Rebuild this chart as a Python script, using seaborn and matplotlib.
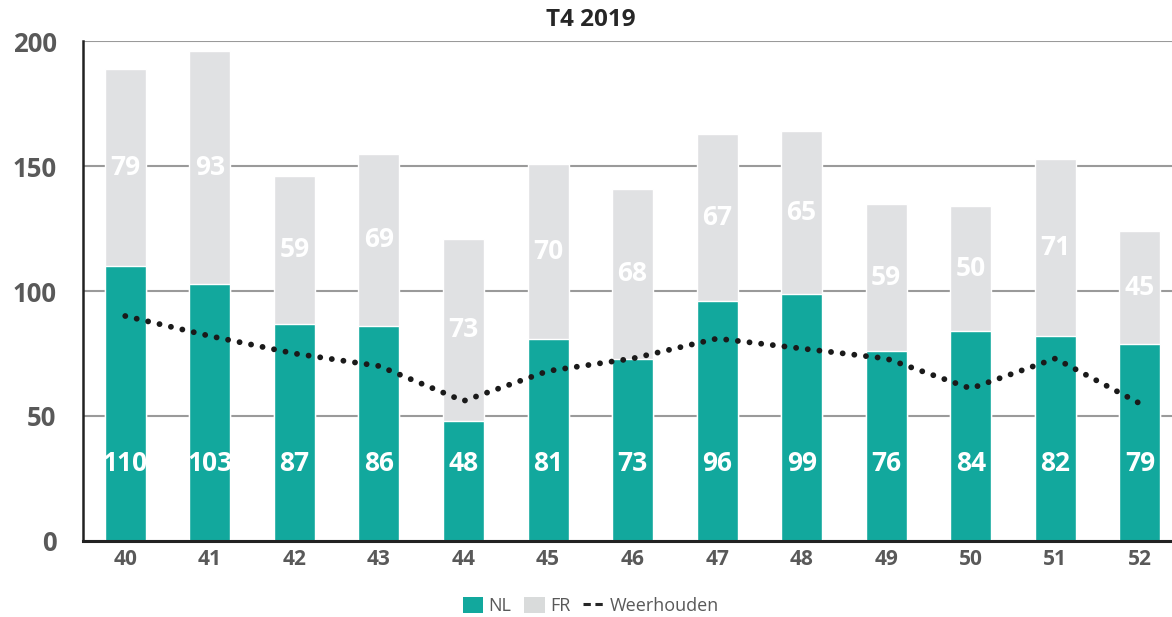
import numpy as np
import pandas as pd
import matplotlib
matplotlib.use('Agg')
import matplotlib.pyplot as plt
import seaborn as sns
from matplotlib.patches import Patch
from matplotlib.lines import Line2D

# data
weeks = ['40', '41', '42', '43', '44', '45', '46', '47', '48', '49', '50', '51', '52']
nl = [110, 103, 87, 86, 48, 81, 73, 96, 99, 76, 84, 82, 79]
fr = [79, 93, 59, 69, 73, 70, 68, 67, 65, 59, 50, 71, 45]
weerhouden = [90, 82, 75, 70, 56, 68, 73, 81, 77, 73, 61, 73, 55]

teal = '#12A89D'
grey = '#E0E1E3'
txt = '#595959'

sns.set_style('white')
plt.rcParams['font.family'] = ['Open Sans', 'DejaVu Sans']

df = pd.DataFrame({'week': weeks, 'NL': nl, 'FR': fr, 'Weerhouden': weerhouden})
df['total'] = df['NL'] + df['FR']

fig = plt.figure(figsize=(11.72, 6.17), dpi=100)
ax = fig.add_axes([0.0708, 0.1232, 0.9292, 0.8103])

# stacked bars: total in grey, NL drawn over it
sns.barplot(data=df, x='week', y='total', color=grey, width=0.485, saturation=1, ax=ax, zorder=2)
sns.barplot(data=df, x='week', y='NL', color=teal, width=0.485, saturation=1, ax=ax, zorder=3)

# Weerhouden line
sns.lineplot(data=df, x='week', y='Weerhouden', color='#1a1a1a', lw=4.2, ax=ax, zorder=4,
             linestyle=(0, (0.01, 2.0)), dash_capstyle='round', sort=False)

# value labels
for i, row in df.iterrows():
    ax.text(i, 31, str(row['NL']), ha='center', va='center', color='white',
            fontsize=19, fontweight='bold', zorder=5)
    ax.text(i, row['NL'] + row['FR'] / 2, str(row['FR']), ha='center', va='center',
            color='white', fontsize=19, fontweight='bold', zorder=5)

ax.set_ylim(0, 200)
ax.set_xlim(-0.5, 12.38)
ax.set_yticks([0, 50, 100, 150, 200])
ax.yaxis.grid(True, color='#9a9a9a', lw=1.5, zorder=0)
ax.set_axisbelow(True)
ax.set_xlabel('')
ax.set_ylabel('')

for s in ['top', 'right']:
    ax.spines[s].set_visible(False)
ax.spines['left'].set_color('#222222')
ax.spines['left'].set_linewidth(1.8)
ax.spines['bottom'].set_color('#222222')
ax.spines['bottom'].set_linewidth(2.2)
ax.spines['bottom'].set_zorder(6)

ax.tick_params(axis='y', length=0, pad=19, labelsize=18.5, labelcolor=txt)
ax.tick_params(axis='x', length=0, pad=6, labelsize=15, labelcolor=txt)
for lbl in ax.get_yticklabels() + ax.get_xticklabels():
    lbl.set_fontweight('bold')

fig.suptitle('T4 2019', x=0.504, y=0.987, fontsize=17.5, fontweight='bold', color='#262626')

handles = [Patch(facecolor=teal, edgecolor='none', label='NL'),
           Patch(facecolor='#D9DBDB', edgecolor='none', label='FR'),
           Line2D([0], [0], color='#262626', lw=2.2, linestyle=(0, (2.4, 1.5)), label='Weerhouden')]
fig.legend(handles=handles, loc='center', bbox_to_anchor=(0.504, 0.018), ncol=3, frameon=False,
           fontsize=13, labelcolor=txt, handlelength=1.15, handleheight=1.0,
           handletextpad=0.3, columnspacing=0.7)

fig.savefig('out.png', dpi=100)
